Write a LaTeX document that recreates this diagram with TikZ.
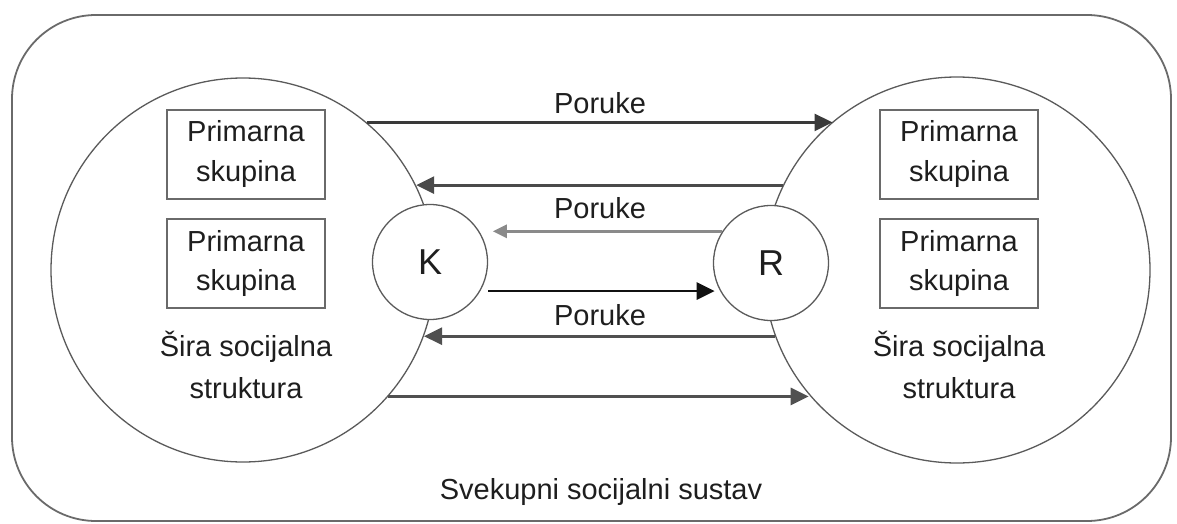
\documentclass[tikz,border=0pt]{standalone}
\usepackage{fontspec}
\setmainfont{Liberation Sans}
\usetikzlibrary{arrows.meta}
\definecolor{ink}{HTML}{1E1E1E}
\definecolor{circc}{HTML}{5A5A5A}
\definecolor{boxc}{HTML}{6A6A6A}
\definecolor{framec}{HTML}{6A6A6A}
\definecolor{aone}{HTML}{3A3A3A}
\definecolor{atwo}{HTML}{4A4A4A}
\definecolor{athree}{HTML}{8A8A8A}
\definecolor{afour}{HTML}{111111}
\definecolor{afive}{HTML}{505050}
\begin{document}
\begin{tikzpicture}[x=0.5pt,y=-0.5pt,
  txt/.style={text=ink, font=\fontsize{14.5}{21}\selectfont, align=center, inner sep=0pt},
  bigc/.style={circle, draw=circc, line width=0.65pt, inner sep=0pt},
  smallc/.style={circle, draw=circc, fill=white, line width=0.65pt, minimum size=57.5pt, inner sep=0pt, text=ink, font=\fontsize{18}{20}\selectfont},
  grp/.style={draw=boxc, line width=0.9pt, minimum width=79pt, minimum height=44.5pt, inner sep=0pt, align=center, text=ink, font=\fontsize{14.5}{20}\selectfont},
  msg/.style={line width=1.4pt, -{Triangle[length=9pt,width=8.5pt]}},
  msgthin/.style={line width=1.4pt, -{Triangle[length=7pt,width=6.5pt]}},
]
\useasboundingbox (0,0) rectangle (1177,524);
% outer frame
\draw[framec, line width=0.9pt, rounded corners=42pt] (12,15) rectangle (1171,521);
\node[txt] (sustav) at (601,492) {Svekupni socijalni sustav};
% big circles
\node[bigc, minimum size=192pt] (L) at (243,270) {};
\node[bigc, minimum size=193pt] (Rb) at (957,270) {};
% groups
\node[grp] (gl1) at (246,154.5) {Primarna\\skupina};
\node[grp] (gl2) at (246,263.5) {Primarna\\skupina};
\node[grp] (gr1) at (959,154.5) {Primarna\\skupina};
\node[grp] (gr2) at (959,263.5) {Primarna\\skupina};
\node[txt] (sl) at (246,365) {Šira socijalna\\struktura};
\node[txt] (sr) at (959,365) {Šira socijalna\\struktura};
% K and R
\node[smallc] (K) at (430,262) {K};
\node[smallc] (R) at (771,263) {R};
% messages
\draw[msg, aone] (L.50) -- (L.50 -| Rb.130);
\draw[msg, atwo] (Rb.154) -- (Rb.154 -| L.26);
\draw[msgthin, athree, shorten >=7pt] (R.147) -- (R.147 -| K.33);
\draw[msg, afour, shorten <=4pt, shorten >=3pt] (K.-30) -- (K.-30 -| R.-150);
\draw[msg, afive] (Rb.-160) -- (Rb.-160 -| L.-20);
\draw[msg, afive] (L.-41) -- (L.-41 -| Rb.-140);
% labels
\node[txt] (p1) at (600,103) {Poruke};
\node[txt] (p2) at (600,208) {Poruke};
\node[txt] (p3) at (600,315) {Poruke};
\end{tikzpicture}
\end{document}
